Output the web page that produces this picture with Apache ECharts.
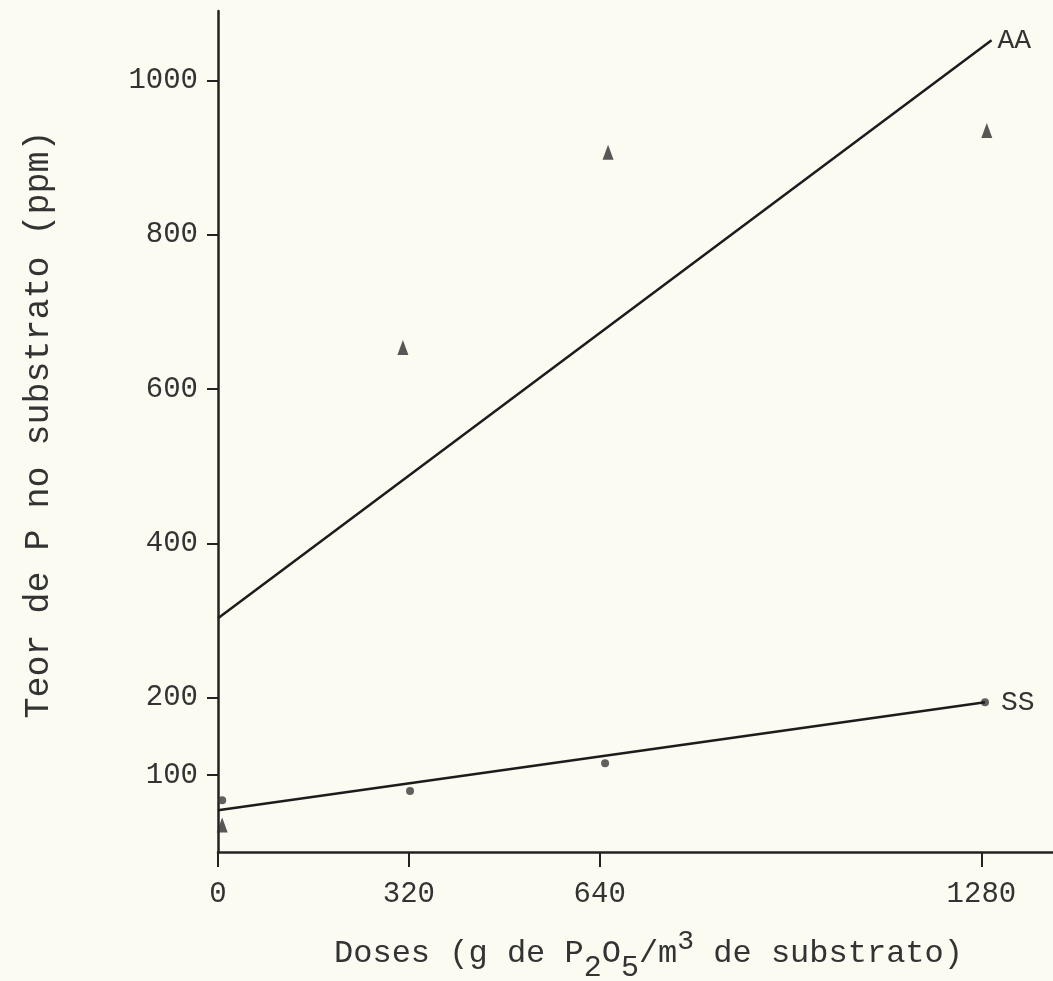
<!DOCTYPE html>
<html>
<head>
<meta charset="utf-8">
<script src="https://cdn.jsdelivr.net/npm/echarts@6/dist/echarts.min.js"></script>
<style>
html,body{margin:0;padding:0;background:#fbfbf2;}
#c{width:1053px;height:981px;}
</style>
</head>
<body>
<div id="c"></div>
<script>
// X ticks (doses) and Y ticks
const xTicks = [0, 320, 640, 1280];
const yTicks = [100, 200, 400, 600, 800, 1000];

// Observed points (x as plotted, y = P content, ppm)
const aaDoses = [7, 310, 654, 1289];
const aaValues = [35, 654, 907, 935];
const ssDoses = [7, 322, 649, 1286];
const ssValues = [67, 79, 115, 194];

// Fitted regression lines (start / end)
const aaLineX = [0, 1297];
const aaLineY = [303, 1052];
const ssLineX = [0, 1286];
const ssLineY = [54, 194];

const FONT = '"Liberation Mono", "DejaVu Sans Mono", monospace';
const INK = '#222';

const zip = (xs, ys) => xs.map((x, i) => [x, ys[i]]);
const plain = v => String(v);

const chart = echarts.init(document.getElementById('c'));
chart.setOption({
  backgroundColor: '#fbfbf2',
  animation: false,
  grid: { left: 218, top: 11, width: 835, height: 841, containLabel: false, outerBoundsMode: 'none' },
  xAxis: {
    type: 'value', min: 0, max: 1400,
    axisLine: { show: true, onZero: false, lineStyle: { color: INK, width: 2.5 } },
    axisTick: { show: true, length: 15, customValues: xTicks, lineStyle: { color: INK, width: 2 } },
    axisLabel: { customValues: xTicks, formatter: plain, margin: 28, color: '#333', fontFamily: FONT, fontSize: 29 },
    splitLine: { show: false },
    name: '{a|Doses (g de P}{s|2}{a|O}{s|5}{a|/m}{p|3}{a| de substrato)}',
    nameLocation: 'middle',
    nameGap: 86,
    nameTextStyle: {
      padding: [0, 0, 0, 26],
      rich: {
        a: { fontFamily: FONT, fontSize: 32, color: '#333', lineHeight: 32, verticalAlign: 'middle' },
        s: { fontFamily: FONT, fontSize: 30, color: '#333', lineHeight: 30, padding: [28, 0, 0, 0], verticalAlign: 'middle' },
        p: { fontFamily: FONT, fontSize: 28, color: '#333', lineHeight: 28, padding: [0, 0, 24, 0], verticalAlign: 'middle' }
      }
    }
  },
  yAxis: {
    type: 'value', min: 0, max: 1090,
    axisLine: { show: true, lineStyle: { color: INK, width: 2.5 } },
    axisTick: { show: true, length: 11, customValues: yTicks, lineStyle: { color: INK, width: 2 } },
    axisLabel: { customValues: yTicks, formatter: plain, margin: 20, color: '#333', fontFamily: FONT, fontSize: 29 },
    splitLine: { show: false },
    name: 'Teor de P no substrato (ppm)',
    nameLocation: 'middle',
    nameGap: 162,
    nameRotate: 90,
    nameTextStyle: { fontFamily: FONT, fontSize: 35, color: '#333', padding: [0, 0, 0, 14] }
  },
  series: [
    {
      name: 'AA fit', type: 'line', data: zip(aaLineX, aaLineY),
      showSymbol: false, symbol: 'none',
      lineStyle: { color: '#1c1c1c', width: 2.5 },
      endLabel: { show: true, formatter: 'AA', distance: 6, fontFamily: FONT, fontSize: 28, color: '#333' }
    },
    {
      name: 'SS fit', type: 'line', data: zip(ssLineX, ssLineY),
      showSymbol: false, symbol: 'none',
      lineStyle: { color: '#1c1c1c', width: 2.5 },
      endLabel: { show: true, formatter: 'SS', distance: 16, fontFamily: FONT, fontSize: 28, color: '#333' }
    },
    {
      name: 'AA', type: 'scatter', data: zip(aaDoses, aaValues),
      symbol: 'triangle', symbolSize: [11, 15],
      itemStyle: { color: '#2e2e2e' }
    },
    {
      name: 'SS', type: 'scatter', data: zip(ssDoses, ssValues),
      symbol: 'circle', symbolSize: 8,
      itemStyle: { color: '#3a3a3a' }
    }
  ]
});
</script>
</body>
</html>
